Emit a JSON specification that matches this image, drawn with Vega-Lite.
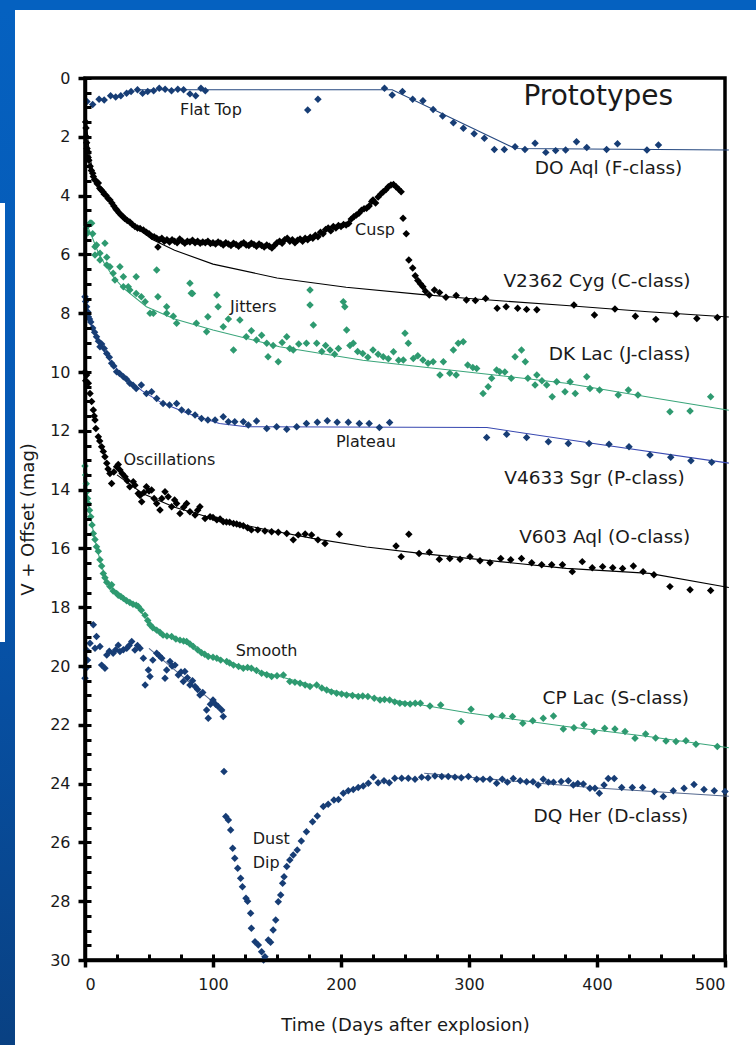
{
"$schema":"https://vega.github.io/schema/vega-lite/v6.json",
"width":640,"height":882,
"autosize":{"type":"none"},
"padding":{"left":85,"top":78,"right":31,"bottom":85},
"background":"white",
"config":{"font":"DejaVu Sans","view":{"stroke":"#000","strokeWidth":3.5}},
"resolve":{"scale":{"color":"independent"},"axis":{"x":"independent","y":"independent"}},
"datasets":{
"top":[{"x1":-80,"x2":600,"y1":-6,"y2":-2.313}],
"left":[{"x1":-80,"x2":-54.69,"y1":-2.313,"y2":40}],
"patch":[{"x1":-80,"x2":-62.5,"y1":4.25,"y2":19.18}],
"fit":[
{"s":"DO","t":40,"m":0.4},{"s":"DO","t":240,"m":0.4},{"s":"DO","t":336,"m":2.4},{"s":"DO","t":503,"m":2.45},
{"s":"V2362","t":1,"m":1.3},{"s":"V2362","t":2,"m":1.95},{"s":"V2362","t":3,"m":2.4},{"s":"V2362","t":5,"m":2.95},{"s":"V2362","t":7,"m":3.3},{"s":"V2362","t":10,"m":3.62},{"s":"V2362","t":15,"m":3.97},{"s":"V2362","t":20,"m":4.22},{"s":"V2362","t":30,"m":4.72},{"s":"V2362","t":40,"m":5.1},{"s":"V2362","t":53,"m":5.5},{"s":"V2362","t":70,"m":5.86},{"s":"V2362","t":100,"m":6.33},{"s":"V2362","t":150,"m":6.8},{"s":"V2362","t":204,"m":7.12},{"s":"V2362","t":262,"m":7.36},{"s":"V2362","t":300,"m":7.5},{"s":"V2362","t":376,"m":7.74},{"s":"V2362","t":440,"m":7.95},{"s":"V2362","t":503,"m":8.13},
{"s":"DK","t":2,"m":5.05},{"s":"DK","t":5,"m":5.35},{"s":"DK","t":10,"m":5.9},{"s":"DK","t":15,"m":6.3},{"s":"DK","t":22,"m":6.76},{"s":"DK","t":30,"m":7.15},{"s":"DK","t":48,"m":7.78},{"s":"DK","t":70,"m":8.2},{"s":"DK","t":100,"m":8.57},{"s":"DK","t":152,"m":9.14},{"s":"DK","t":217,"m":9.6},{"s":"DK","t":262,"m":9.82},{"s":"DK","t":320,"m":10.1},{"s":"DK","t":376,"m":10.38},{"s":"DK","t":440,"m":10.85},{"s":"DK","t":503,"m":11.3},
{"s":"V4633","t":0,"m":7.5},{"s":"V4633","t":5,"m":8.4},{"s":"V4633","t":10,"m":8.95},{"s":"V4633","t":20,"m":9.65},{"s":"V4633","t":30,"m":10.15},{"s":"V4633","t":45,"m":10.65},{"s":"V4633","t":60,"m":11.05},{"s":"V4633","t":80,"m":11.4},{"s":"V4633","t":105,"m":11.75},{"s":"V4633","t":126,"m":11.86},{"s":"V4633","t":314,"m":11.89},{"s":"V4633","t":400,"m":12.45},{"s":"V4633","t":503,"m":13.1},
{"s":"V603","t":25,"m":13.5},{"s":"V603","t":45,"m":14.13},{"s":"V603","t":70,"m":14.6},{"s":"V603","t":100,"m":14.98},{"s":"V603","t":140,"m":15.35},{"s":"V603","t":178,"m":15.66},{"s":"V603","t":220,"m":15.95},{"s":"V603","t":262,"m":16.17},{"s":"V603","t":324,"m":16.45},{"s":"V603","t":376,"m":16.68},{"s":"V603","t":441,"m":16.85},{"s":"V603","t":503,"m":17.33},
{"s":"CP","t":0,"m":13.2},{"s":"CP","t":2,"m":14.3},{"s":"CP","t":5,"m":15.1},{"s":"CP","t":8,"m":15.75},{"s":"CP","t":12,"m":16.45},{"s":"CP","t":16,"m":17.0},{"s":"CP","t":20,"m":17.3},{"s":"CP","t":30,"m":17.72},{"s":"CP","t":40,"m":17.95},{"s":"CP","t":50,"m":18.5},{"s":"CP","t":60,"m":18.9},{"s":"CP","t":75,"m":19.15},{"s":"CP","t":100,"m":19.7},{"s":"CP","t":130,"m":20.1},{"s":"CP","t":160,"m":20.45},{"s":"CP","t":200,"m":20.9},{"s":"CP","t":246,"m":21.2},{"s":"CP","t":300,"m":21.6},{"s":"CP","t":376,"m":22.06},{"s":"CP","t":440,"m":22.4},{"s":"CP","t":503,"m":22.78},
{"s":"DQ1","t":50,"m":19.4},{"s":"DQ1","t":109,"m":21.55},
{"s":"DQ2","t":265,"m":23.65},{"s":"DQ2","t":330,"m":23.9},{"s":"DQ2","t":400,"m":24.15},{"s":"DQ2","t":503,"m":24.43}
],
"pts":[
{"s":"DO","t":1.5,"m":0.8},{"s":"DO","t":6,"m":0.9},{"s":"DO","t":11,"m":0.72},{"s":"DO","t":15,"m":0.75},{"s":"DO","t":20,"m":0.6},{"s":"DO","t":24,"m":0.65},{"s":"DO","t":28,"m":0.6},{"s":"DO","t":32.5,"m":0.52},{"s":"DO","t":36,"m":0.46},{"s":"DO","t":41,"m":0.4},{"s":"DO","t":45,"m":0.52},{"s":"DO","t":49,"m":0.46},{"s":"DO","t":53.6,"m":0.43},{"s":"DO","t":58,"m":0.35},{"s":"DO","t":62.6,"m":0.38},{"s":"DO","t":67.6,"m":0.43},{"s":"DO","t":72.5,"m":0.38},{"s":"DO","t":77,"m":0.4},{"s":"DO","t":82,"m":0.54},{"s":"DO","t":86.5,"m":0.6},{"s":"DO","t":90.6,"m":0.35},{"s":"DO","t":94,"m":0.43},{"s":"DO","t":174,"m":1.09},{"s":"DO","t":182,"m":0.72},{"s":"DO","t":234,"m":0.35},{"s":"DO","t":240,"m":0.58},{"s":"DO","t":248,"m":0.46},{"s":"DO","t":256,"m":0.72},{"s":"DO","t":264,"m":0.77},{"s":"DO","t":272,"m":1.07},{"s":"DO","t":279.4,"m":1.29},{"s":"DO","t":287.8,"m":1.52},{"s":"DO","t":295.6,"m":1.71},{"s":"DO","t":304,"m":1.9},{"s":"DO","t":312,"m":2.05},{"s":"DO","t":319.8,"m":2.43},{"s":"DO","t":327.6,"m":2.43},{"s":"DO","t":336,"m":2.34},{"s":"DO","t":343.7,"m":2.43},{"s":"DO","t":351.6,"m":2.22},{"s":"DO","t":360,"m":2.53},{"s":"DO","t":367.7,"m":2.47},{"s":"DO","t":375.5,"m":2.45},{"s":"DO","t":384,"m":2.17},{"s":"DO","t":392,"m":2.36},{"s":"DO","t":407.5,"m":2.43},{"s":"DO","t":416,"m":2.24},{"s":"DO","t":439,"m":2.45},{"s":"DO","t":448,"m":2.28},
{"s":"V2362","t":0.5,"m":1.5},{"s":"V2362","t":0.8,"m":1.7},{"s":"V2362","t":1,"m":2.0},{"s":"V2362","t":1.3,"m":2.2},{"s":"V2362","t":1.6,"m":2.4},{"s":"V2362","t":2,"m":2.5},{"s":"V2362","t":2.5,"m":2.7},{"s":"V2362","t":3,"m":2.8},{"s":"V2362","t":4,"m":3.0},{"s":"V2362","t":5,"m":3.15},{"s":"V2362","t":6,"m":3.24},{"s":"V2362","t":6.5,"m":3.35},{"s":"V2362","t":7.5,"m":3.45},{"s":"V2362","t":8.5,"m":3.5},{"s":"V2362","t":9.5,"m":3.6},{"s":"V2362","t":10.4,"m":3.57},{"s":"V2362","t":11.5,"m":3.75},{"s":"V2362","t":12.5,"m":3.8},{"s":"V2362","t":14,"m":3.87},{"s":"V2362","t":15,"m":3.95},{"s":"V2362","t":16.5,"m":4.0},{"s":"V2362","t":18,"m":4.1},{"s":"V2362","t":19.5,"m":4.15},{"s":"V2362","t":21,"m":4.25},{"s":"V2362","t":22.5,"m":4.35},{"s":"V2362","t":24,"m":4.45},{"s":"V2362","t":25,"m":4.5},{"s":"V2362","t":26.5,"m":4.58},{"s":"V2362","t":28,"m":4.65},{"s":"V2362","t":29.7,"m":4.72},{"s":"V2362","t":31,"m":4.78},{"s":"V2362","t":33,"m":4.85},{"s":"V2362","t":35,"m":4.9},{"s":"V2362","t":37,"m":4.98},{"s":"V2362","t":39,"m":5.05},{"s":"V2362","t":41,"m":5.1},{"s":"V2362","t":43,"m":5.12},{"s":"V2362","t":45.6,"m":5.17},{"s":"V2362","t":48,"m":5.25},{"s":"V2362","t":50,"m":5.3},{"s":"V2362","t":52,"m":5.38},{"s":"V2362","t":54,"m":5.4},{"s":"V2362","t":56,"m":5.45},{"s":"V2362","t":57,"m":5.75},{"s":"V2362","t":58,"m":5.5},{"s":"V2362","t":60,"m":5.45},{"s":"V2362","t":62,"m":5.55},{"s":"V2362","t":64,"m":5.5},{"s":"V2362","t":66,"m":5.58},{"s":"V2362","t":68,"m":5.5},{"s":"V2362","t":70,"m":5.55},{"s":"V2362","t":72,"m":5.6},{"s":"V2362","t":74,"m":5.48},{"s":"V2362","t":76,"m":5.55},{"s":"V2362","t":78,"m":5.62},{"s":"V2362","t":80,"m":5.55},{"s":"V2362","t":82,"m":5.58},{"s":"V2362","t":84,"m":5.52},{"s":"V2362","t":86,"m":5.6},{"s":"V2362","t":88,"m":5.55},{"s":"V2362","t":90,"m":5.62},{"s":"V2362","t":92,"m":5.58},{"s":"V2362","t":94,"m":5.6},{"s":"V2362","t":96,"m":5.55},{"s":"V2362","t":98,"m":5.63},{"s":"V2362","t":100,"m":5.6},{"s":"V2362","t":102,"m":5.65},{"s":"V2362","t":104,"m":5.58},{"s":"V2362","t":106,"m":5.62},{"s":"V2362","t":108,"m":5.68},{"s":"V2362","t":110,"m":5.6},{"s":"V2362","t":112,"m":5.65},{"s":"V2362","t":114,"m":5.7},{"s":"V2362","t":116,"m":5.62},{"s":"V2362","t":118,"m":5.66},{"s":"V2362","t":120,"m":5.72},{"s":"V2362","t":122,"m":5.65},{"s":"V2362","t":124,"m":5.6},{"s":"V2362","t":126,"m":5.68},{"s":"V2362","t":128,"m":5.7},{"s":"V2362","t":130,"m":5.62},{"s":"V2362","t":132,"m":5.66},{"s":"V2362","t":134,"m":5.72},{"s":"V2362","t":136,"m":5.65},{"s":"V2362","t":138,"m":5.7},{"s":"V2362","t":140,"m":5.75},{"s":"V2362","t":142,"m":5.68},{"s":"V2362","t":144,"m":5.72},{"s":"V2362","t":146,"m":5.78},{"s":"V2362","t":148,"m":5.7},{"s":"V2362","t":150,"m":5.6},{"s":"V2362","t":152,"m":5.55},{"s":"V2362","t":154,"m":5.62},{"s":"V2362","t":156,"m":5.5},{"s":"V2362","t":158,"m":5.45},{"s":"V2362","t":160,"m":5.55},{"s":"V2362","t":162,"m":5.5},{"s":"V2362","t":164,"m":5.6},{"s":"V2362","t":166,"m":5.52},{"s":"V2362","t":168,"m":5.48},{"s":"V2362","t":170,"m":5.55},{"s":"V2362","t":172,"m":5.45},{"s":"V2362","t":174,"m":5.5},{"s":"V2362","t":176,"m":5.42},{"s":"V2362","t":178,"m":5.45},{"s":"V2362","t":180,"m":5.35},{"s":"V2362","t":182,"m":5.4},{"s":"V2362","t":184,"m":5.25},{"s":"V2362","t":186,"m":5.3},{"s":"V2362","t":188,"m":5.15},{"s":"V2362","t":190,"m":5.1},{"s":"V2362","t":192,"m":5.2},{"s":"V2362","t":194,"m":5.05},{"s":"V2362","t":196,"m":5.1},{"s":"V2362","t":198,"m":5.02},{"s":"V2362","t":200,"m":5.05},{"s":"V2362","t":202,"m":4.98},{"s":"V2362","t":204,"m":5.0},{"s":"V2362","t":206,"m":4.95},{"s":"V2362","t":208,"m":4.8},{"s":"V2362","t":210,"m":4.72},{"s":"V2362","t":212,"m":4.66},{"s":"V2362","t":214,"m":4.6},{"s":"V2362","t":216,"m":4.5},{"s":"V2362","t":218,"m":4.45},{"s":"V2362","t":220,"m":4.43},{"s":"V2362","t":222,"m":4.35},{"s":"V2362","t":224,"m":4.2},{"s":"V2362","t":225,"m":4.15},{"s":"V2362","t":227,"m":4.25},{"s":"V2362","t":229,"m":4.05},{"s":"V2362","t":231,"m":3.95},{"s":"V2362","t":233,"m":3.87},{"s":"V2362","t":235,"m":3.8},{"s":"V2362","t":237,"m":3.7},{"s":"V2362","t":239,"m":3.64},{"s":"V2362","t":241,"m":3.62},{"s":"V2362","t":243,"m":3.7},{"s":"V2362","t":245,"m":3.78},{"s":"V2362","t":247,"m":3.87},{"s":"V2362","t":248.5,"m":4.77},{"s":"V2362","t":251,"m":5.3},{"s":"V2362","t":253,"m":6.19},{"s":"V2362","t":256,"m":6.46},{"s":"V2362","t":258,"m":6.73},{"s":"V2362","t":260,"m":6.89},{"s":"V2362","t":262,"m":7.0},{"s":"V2362","t":264,"m":7.1},{"s":"V2362","t":266,"m":7.25},{"s":"V2362","t":269,"m":7.38},{"s":"V2362","t":273,"m":7.21},{"s":"V2362","t":277,"m":7.3},{"s":"V2362","t":282,"m":7.46},{"s":"V2362","t":290,"m":7.4},{"s":"V2362","t":298,"m":7.55},{"s":"V2362","t":305,"m":7.57},{"s":"V2362","t":313,"m":7.5},{"s":"V2362","t":322,"m":7.83},{"s":"V2362","t":329,"m":7.78},{"s":"V2362","t":338,"m":7.83},{"s":"V2362","t":345,"m":7.87},{"s":"V2362","t":353,"m":7.88},{"s":"V2362","t":382,"m":7.72},{"s":"V2362","t":398,"m":8.06},{"s":"V2362","t":414,"m":7.86},{"s":"V2362","t":430,"m":8.1},{"s":"V2362","t":446,"m":8.21},{"s":"V2362","t":462,"m":8.03},{"s":"V2362","t":478,"m":8.18},{"s":"V2362","t":494,"m":8.15},
{"s":"DK","t":1.3,"m":5.06},{"s":"DK","t":2,"m":5.27},{"s":"DK","t":4,"m":4.93},{"s":"DK","t":5.2,"m":4.94},{"s":"DK","t":6,"m":5.3},{"s":"DK","t":7.8,"m":5.74},{"s":"DK","t":7.8,"m":6.02},{"s":"DK","t":9,"m":5.68},{"s":"DK","t":11.7,"m":5.96},{"s":"DK","t":11.7,"m":6.19},{"s":"DK","t":15.6,"m":5.62},{"s":"DK","t":17,"m":6.36},{"s":"DK","t":17,"m":6.1},{"s":"DK","t":19.5,"m":6.42},{"s":"DK","t":22,"m":6.64},{"s":"DK","t":23.4,"m":6.87},{"s":"DK","t":27.3,"m":6.42},{"s":"DK","t":30,"m":7.1},{"s":"DK","t":30,"m":6.76},{"s":"DK","t":33.8,"m":7.1},{"s":"DK","t":35,"m":7.21},{"s":"DK","t":40,"m":6.76},{"s":"DK","t":40,"m":7.33},{"s":"DK","t":44,"m":7.44},{"s":"DK","t":47,"m":7.61},{"s":"DK","t":50.8,"m":8.0},{"s":"DK","t":53.4,"m":8.0},{"s":"DK","t":56,"m":6.53},{"s":"DK","t":57,"m":7.44},{"s":"DK","t":63.8,"m":7.78},{"s":"DK","t":63.8,"m":8.0},{"s":"DK","t":69,"m":8.1},{"s":"DK","t":71.6,"m":8.34},{"s":"DK","t":82,"m":6.98},{"s":"DK","t":83,"m":7.32},{"s":"DK","t":84,"m":7.33},{"s":"DK","t":87,"m":8.34},{"s":"DK","t":95,"m":8.63},{"s":"DK","t":96,"m":8.12},{"s":"DK","t":103,"m":7.38},{"s":"DK","t":104,"m":7.78},{"s":"DK","t":108,"m":8.46},{"s":"DK","t":112,"m":8.2},{"s":"DK","t":116,"m":9.25},{"s":"DK","t":121,"m":8.23},{"s":"DK","t":126,"m":8.8},{"s":"DK","t":130,"m":8.6},{"s":"DK","t":134,"m":8.91},{"s":"DK","t":138,"m":8.75},{"s":"DK","t":142,"m":9.02},{"s":"DK","t":143,"m":9.48},{"s":"DK","t":147,"m":9.1},{"s":"DK","t":151,"m":9.65},{"s":"DK","t":154,"m":9.0},{"s":"DK","t":157.6,"m":8.8},{"s":"DK","t":160,"m":9.2},{"s":"DK","t":162.7,"m":9.25},{"s":"DK","t":167,"m":9.05},{"s":"DK","t":173,"m":9.02},{"s":"DK","t":175.8,"m":7.21},{"s":"DK","t":175.8,"m":7.72},{"s":"DK","t":178.4,"m":8.4},{"s":"DK","t":181,"m":9.02},{"s":"DK","t":185,"m":9.3},{"s":"DK","t":188,"m":9.1},{"s":"DK","t":191.4,"m":9.25},{"s":"DK","t":195,"m":9.4},{"s":"DK","t":198,"m":9.2},{"s":"DK","t":201.8,"m":7.61},{"s":"DK","t":203,"m":7.78},{"s":"DK","t":204.4,"m":8.57},{"s":"DK","t":207,"m":9.1},{"s":"DK","t":209.6,"m":9.02},{"s":"DK","t":213,"m":9.3},{"s":"DK","t":217,"m":9.37},{"s":"DK","t":221,"m":9.5},{"s":"DK","t":225,"m":9.25},{"s":"DK","t":229,"m":9.4},{"s":"DK","t":233,"m":9.48},{"s":"DK","t":237,"m":9.55},{"s":"DK","t":241,"m":9.31},{"s":"DK","t":245,"m":9.6},{"s":"DK","t":248.7,"m":9.59},{"s":"DK","t":250,"m":8.68},{"s":"DK","t":252.6,"m":9.02},{"s":"DK","t":256.5,"m":9.54},{"s":"DK","t":260,"m":9.45},{"s":"DK","t":264,"m":9.59},{"s":"DK","t":268,"m":9.7},{"s":"DK","t":272,"m":9.65},{"s":"DK","t":277.3,"m":10.1},{"s":"DK","t":280,"m":9.65},{"s":"DK","t":285,"m":10.04},{"s":"DK","t":287.8,"m":9.25},{"s":"DK","t":290,"m":10.1},{"s":"DK","t":291.6,"m":9.02},{"s":"DK","t":295.5,"m":8.97},{"s":"DK","t":299,"m":9.76},{"s":"DK","t":303,"m":9.85},{"s":"DK","t":306,"m":9.88},{"s":"DK","t":311,"m":10.73},{"s":"DK","t":315,"m":10.5},{"s":"DK","t":317.7,"m":10.21},{"s":"DK","t":321.6,"m":9.93},{"s":"DK","t":324,"m":9.99},{"s":"DK","t":328,"m":10.0},{"s":"DK","t":333,"m":10.21},{"s":"DK","t":336,"m":9.48},{"s":"DK","t":341,"m":9.25},{"s":"DK","t":344,"m":9.65},{"s":"DK","t":346,"m":10.21},{"s":"DK","t":351.6,"m":10.44},{"s":"DK","t":353,"m":10.1},{"s":"DK","t":357,"m":10.3},{"s":"DK","t":360.7,"m":10.44},{"s":"DK","t":365,"m":10.84},{"s":"DK","t":368.5,"m":10.33},{"s":"DK","t":375,"m":10.67},{"s":"DK","t":379,"m":10.33},{"s":"DK","t":383,"m":10.73},{"s":"DK","t":392,"m":10.16},{"s":"DK","t":394.5,"m":10.56},{"s":"DK","t":402,"m":10.61},{"s":"DK","t":416.6,"m":10.78},{"s":"DK","t":424.5,"m":10.61},{"s":"DK","t":432,"m":10.78},{"s":"DK","t":457,"m":11.35},{"s":"DK","t":472.7,"m":11.33},{"s":"DK","t":488.8,"m":10.84},
{"s":"V4633","t":0,"m":7.44},{"s":"V4633","t":0.5,"m":7.6},{"s":"V4633","t":1.3,"m":7.78},{"s":"V4633","t":2,"m":7.95},{"s":"V4633","t":2.6,"m":8.12},{"s":"V4633","t":3.5,"m":8.2},{"s":"V4633","t":4.5,"m":8.3},{"s":"V4633","t":6,"m":8.5},{"s":"V4633","t":7.5,"m":8.65},{"s":"V4633","t":9,"m":8.8},{"s":"V4633","t":10.5,"m":8.95},{"s":"V4633","t":11.7,"m":9.14},{"s":"V4633","t":13,"m":9.05},{"s":"V4633","t":15,"m":9.2},{"s":"V4633","t":17,"m":9.37},{"s":"V4633","t":19,"m":9.5},{"s":"V4633","t":20.8,"m":9.7},{"s":"V4633","t":22.5,"m":9.8},{"s":"V4633","t":24.7,"m":9.99},{"s":"V4633","t":27,"m":10.05},{"s":"V4633","t":30,"m":10.16},{"s":"V4633","t":32.5,"m":10.25},{"s":"V4633","t":35,"m":10.38},{"s":"V4633","t":37.5,"m":10.45},{"s":"V4633","t":40,"m":10.56},{"s":"V4633","t":44,"m":10.44},{"s":"V4633","t":48,"m":10.73},{"s":"V4633","t":52,"m":10.67},{"s":"V4633","t":56,"m":10.9},{"s":"V4633","t":61,"m":11.07},{"s":"V4633","t":66,"m":11.12},{"s":"V4633","t":71.6,"m":11.07},{"s":"V4633","t":75.5,"m":11.29},{"s":"V4633","t":80.7,"m":11.35},{"s":"V4633","t":86,"m":11.46},{"s":"V4633","t":91,"m":11.58},{"s":"V4633","t":96,"m":11.63},{"s":"V4633","t":101.6,"m":11.63},{"s":"V4633","t":108,"m":11.52},{"s":"V4633","t":112,"m":11.69},{"s":"V4633","t":117,"m":11.69},{"s":"V4633","t":123.7,"m":11.69},{"s":"V4633","t":127.6,"m":11.8},{"s":"V4633","t":134,"m":11.67},{"s":"V4633","t":142,"m":11.92},{"s":"V4633","t":149.7,"m":11.86},{"s":"V4633","t":157.6,"m":11.95},{"s":"V4633","t":165.4,"m":11.86},{"s":"V4633","t":173,"m":11.75},{"s":"V4633","t":181.5,"m":11.71},{"s":"V4633","t":189.3,"m":11.66},{"s":"V4633","t":197,"m":11.71},{"s":"V4633","t":205.7,"m":11.71},{"s":"V4633","t":214.3,"m":11.75},{"s":"V4633","t":222,"m":11.75},{"s":"V4633","t":230,"m":11.89},{"s":"V4633","t":238,"m":11.72},{"s":"V4633","t":313.8,"m":12.23},{"s":"V4633","t":329.4,"m":12.12},{"s":"V4633","t":345,"m":12.23},{"s":"V4633","t":362,"m":12.37},{"s":"V4633","t":377.6,"m":12.43},{"s":"V4633","t":393.8,"m":12.43},{"s":"V4633","t":409.4,"m":12.46},{"s":"V4633","t":425,"m":12.54},{"s":"V4633","t":441.4,"m":12.82},{"s":"V4633","t":457.6,"m":12.9},{"s":"V4633","t":473.4,"m":13.02},{"s":"V4633","t":489.6,"m":13.07},
{"s":"V603","t":0,"m":10.0},{"s":"V603","t":0.6,"m":10.3},{"s":"V603","t":1.3,"m":10.1},{"s":"V603","t":2.6,"m":10.38},{"s":"V603","t":3.9,"m":10.73},{"s":"V603","t":5.2,"m":11.0},{"s":"V603","t":6.5,"m":11.29},{"s":"V603","t":7.2,"m":11.5},{"s":"V603","t":7.8,"m":11.63},{"s":"V603","t":8.5,"m":11.92},{"s":"V603","t":10.4,"m":12.2},{"s":"V603","t":11.5,"m":12.35},{"s":"V603","t":13,"m":12.54},{"s":"V603","t":14.3,"m":12.7},{"s":"V603","t":15.6,"m":12.88},{"s":"V603","t":17,"m":13.1},{"s":"V603","t":18,"m":13.3},{"s":"V603","t":19.5,"m":13.45},{"s":"V603","t":20.8,"m":13.79},{"s":"V603","t":22.5,"m":13.4},{"s":"V603","t":24.7,"m":13.22},{"s":"V603","t":26,"m":13.15},{"s":"V603","t":27.3,"m":13.33},{"s":"V603","t":29,"m":13.45},{"s":"V603","t":31.3,"m":13.56},{"s":"V603","t":33,"m":13.7},{"s":"V603","t":35,"m":13.9},{"s":"V603","t":37.7,"m":13.73},{"s":"V603","t":39,"m":13.85},{"s":"V603","t":41.6,"m":14.13},{"s":"V603","t":43,"m":14.2},{"s":"V603","t":44.3,"m":14.41},{"s":"V603","t":46,"m":14.1},{"s":"V603","t":48,"m":13.9},{"s":"V603","t":50,"m":14.05},{"s":"V603","t":52,"m":14.01},{"s":"V603","t":54,"m":14.3},{"s":"V603","t":56,"m":14.47},{"s":"V603","t":58.6,"m":14.69},{"s":"V603","t":60,"m":14.3},{"s":"V603","t":62.5,"m":14.07},{"s":"V603","t":65,"m":14.24},{"s":"V603","t":67.7,"m":14.58},{"s":"V603","t":70,"m":14.35},{"s":"V603","t":71.6,"m":14.47},{"s":"V603","t":74.2,"m":14.81},{"s":"V603","t":77,"m":14.6},{"s":"V603","t":79.4,"m":14.47},{"s":"V603","t":82,"m":14.75},{"s":"V603","t":86,"m":14.86},{"s":"V603","t":88,"m":14.7},{"s":"V603","t":89.8,"m":14.58},{"s":"V603","t":93.8,"m":14.98},{"s":"V603","t":97.7,"m":14.92},{"s":"V603","t":100,"m":14.95},{"s":"V603","t":103,"m":15.03},{"s":"V603","t":105.5,"m":15.0},{"s":"V603","t":108,"m":15.09},{"s":"V603","t":110.5,"m":15.1},{"s":"V603","t":113,"m":15.11},{"s":"V603","t":116,"m":15.15},{"s":"V603","t":118.5,"m":15.17},{"s":"V603","t":121,"m":15.2},{"s":"V603","t":123.7,"m":15.23},{"s":"V603","t":127,"m":15.3},{"s":"V603","t":130,"m":15.37},{"s":"V603","t":135,"m":15.37},{"s":"V603","t":140.6,"m":15.41},{"s":"V603","t":145.8,"m":15.43},{"s":"V603","t":151,"m":15.45},{"s":"V603","t":157.6,"m":15.49},{"s":"V603","t":162.7,"m":15.71},{"s":"V603","t":166.6,"m":15.54},{"s":"V603","t":172,"m":15.51},{"s":"V603","t":177,"m":15.54},{"s":"V603","t":182,"m":15.71},{"s":"V603","t":187.5,"m":15.83},{"s":"V603","t":198.7,"m":15.52},{"s":"V603","t":243,"m":15.92},{"s":"V603","t":247,"m":16.28},{"s":"V603","t":253,"m":15.52},{"s":"V603","t":261,"m":16.17},{"s":"V603","t":269,"m":16.13},{"s":"V603","t":276.8,"m":16.37},{"s":"V603","t":285,"m":16.34},{"s":"V603","t":293,"m":16.37},{"s":"V603","t":300.8,"m":16.28},{"s":"V603","t":308.6,"m":16.42},{"s":"V603","t":316.4,"m":16.49},{"s":"V603","t":324.8,"m":16.34},{"s":"V603","t":332.6,"m":16.39},{"s":"V603","t":341,"m":16.34},{"s":"V603","t":349,"m":16.49},{"s":"V603","t":356.8,"m":16.56},{"s":"V603","t":364.6,"m":16.56},{"s":"V603","t":373,"m":16.56},{"s":"V603","t":380.7,"m":16.79},{"s":"V603","t":388.5,"m":16.45},{"s":"V603","t":396.3,"m":16.66},{"s":"V603","t":404.4,"m":16.62},{"s":"V603","t":412.3,"m":16.66},{"s":"V603","t":420,"m":16.68},{"s":"V603","t":428.4,"m":16.6},{"s":"V603","t":436,"m":16.79},{"s":"V603","t":444.5,"m":16.9},{"s":"V603","t":457,"m":17.3},{"s":"V603","t":472.7,"m":17.41},{"s":"V603","t":488.8,"m":17.43},
{"s":"CP","t":0,"m":13.2},{"s":"CP","t":0.5,"m":13.5},{"s":"CP","t":1,"m":13.8},{"s":"CP","t":1.3,"m":14.07},{"s":"CP","t":2,"m":14.3},{"s":"CP","t":2.6,"m":14.47},{"s":"CP","t":3.5,"m":14.7},{"s":"CP","t":4.5,"m":14.92},{"s":"CP","t":5.5,"m":15.2},{"s":"CP","t":6.5,"m":15.49},{"s":"CP","t":7.8,"m":15.7},{"s":"CP","t":9,"m":15.94},{"s":"CP","t":10.4,"m":16.1},{"s":"CP","t":11.7,"m":16.39},{"s":"CP","t":13,"m":16.6},{"s":"CP","t":14.3,"m":16.85},{"s":"CP","t":15.6,"m":17.0},{"s":"CP","t":17,"m":17.15},{"s":"CP","t":19.5,"m":17.3},{"s":"CP","t":20.8,"m":17.24},{"s":"CP","t":22,"m":17.45},{"s":"CP","t":24.7,"m":17.53},{"s":"CP","t":26,"m":17.59},{"s":"CP","t":28,"m":17.64},{"s":"CP","t":30,"m":17.7},{"s":"CP","t":32.5,"m":17.78},{"s":"CP","t":35,"m":17.84},{"s":"CP","t":37.5,"m":17.9},{"s":"CP","t":40,"m":17.93},{"s":"CP","t":41.6,"m":17.98},{"s":"CP","t":44,"m":18.1},{"s":"CP","t":46.9,"m":18.27},{"s":"CP","t":49,"m":18.45},{"s":"CP","t":50.8,"m":18.6},{"s":"CP","t":53,"m":18.7},{"s":"CP","t":56,"m":18.78},{"s":"CP","t":58.5,"m":18.85},{"s":"CP","t":61,"m":18.95},{"s":"CP","t":64,"m":18.98},{"s":"CP","t":67.7,"m":19.0},{"s":"CP","t":71,"m":19.08},{"s":"CP","t":74.2,"m":19.12},{"s":"CP","t":77,"m":19.15},{"s":"CP","t":79.4,"m":19.17},{"s":"CP","t":82,"m":19.25},{"s":"CP","t":84.6,"m":19.34},{"s":"CP","t":88,"m":19.45},{"s":"CP","t":91,"m":19.55},{"s":"CP","t":93.5,"m":19.6},{"s":"CP","t":96.3,"m":19.68},{"s":"CP","t":100,"m":19.7},{"s":"CP","t":103,"m":19.74},{"s":"CP","t":106,"m":19.8},{"s":"CP","t":110.7,"m":19.85},{"s":"CP","t":113,"m":19.9},{"s":"CP","t":116,"m":19.97},{"s":"CP","t":120,"m":20.02},{"s":"CP","t":123.7,"m":20.08},{"s":"CP","t":127,"m":20.05},{"s":"CP","t":130,"m":20.08},{"s":"CP","t":134,"m":20.15},{"s":"CP","t":138,"m":20.25},{"s":"CP","t":142,"m":20.3},{"s":"CP","t":145.8,"m":20.36},{"s":"CP","t":150,"m":20.33},{"s":"CP","t":155,"m":20.31},{"s":"CP","t":160,"m":20.53},{"s":"CP","t":164,"m":20.55},{"s":"CP","t":168,"m":20.59},{"s":"CP","t":172,"m":20.65},{"s":"CP","t":175.8,"m":20.7},{"s":"CP","t":181,"m":20.65},{"s":"CP","t":185,"m":20.75},{"s":"CP","t":188.8,"m":20.82},{"s":"CP","t":192.5,"m":20.88},{"s":"CP","t":196.6,"m":20.93},{"s":"CP","t":200.5,"m":20.95},{"s":"CP","t":204.4,"m":20.99},{"s":"CP","t":209,"m":21.0},{"s":"CP","t":213.5,"m":21.04},{"s":"CP","t":217,"m":21.02},{"s":"CP","t":221,"m":21.04},{"s":"CP","t":226,"m":21.1},{"s":"CP","t":230.5,"m":21.16},{"s":"CP","t":234,"m":21.14},{"s":"CP","t":238,"m":21.16},{"s":"CP","t":242,"m":21.22},{"s":"CP","t":246,"m":21.27},{"s":"CP","t":250,"m":21.28},{"s":"CP","t":254,"m":21.29},{"s":"CP","t":258,"m":21.27},{"s":"CP","t":262,"m":21.27},{"s":"CP","t":269.5,"m":21.36},{"s":"CP","t":277.9,"m":21.33},{"s":"CP","t":293.8,"m":21.89},{"s":"CP","t":301.6,"m":21.47},{"s":"CP","t":317.7,"m":21.72},{"s":"CP","t":326,"m":21.69},{"s":"CP","t":334,"m":21.72},{"s":"CP","t":342,"m":21.95},{"s":"CP","t":349.8,"m":21.86},{"s":"CP","t":358,"m":21.78},{"s":"CP","t":366,"m":21.7},{"s":"CP","t":373.7,"m":22.14},{"s":"CP","t":382,"m":22.1},{"s":"CP","t":389.8,"m":22.0},{"s":"CP","t":397.7,"m":22.23},{"s":"CP","t":406,"m":22.12},{"s":"CP","t":414,"m":22.14},{"s":"CP","t":421.9,"m":22.23},{"s":"CP","t":429.7,"m":22.46},{"s":"CP","t":438,"m":22.31},{"s":"CP","t":445.8,"m":22.45},{"s":"CP","t":453.9,"m":22.55},{"s":"CP","t":461.7,"m":22.57},{"s":"CP","t":469.5,"m":22.54},{"s":"CP","t":477.3,"m":22.66},{"s":"CP","t":494,"m":22.74},
{"s":"DQ","t":0,"m":20.42},{"s":"DQ","t":0.8,"m":20.08},{"s":"DQ","t":1.3,"m":19.46},{"s":"DQ","t":2,"m":19.8},{"s":"DQ","t":3.9,"m":19.23},{"s":"DQ","t":6.5,"m":18.6},{"s":"DQ","t":7.8,"m":19.4},{"s":"DQ","t":9,"m":19.0},{"s":"DQ","t":11.7,"m":19.34},{"s":"DQ","t":13,"m":19.97},{"s":"DQ","t":15.6,"m":20.08},{"s":"DQ","t":17,"m":19.63},{"s":"DQ","t":19,"m":19.5},{"s":"DQ","t":22,"m":19.57},{"s":"DQ","t":24,"m":19.45},{"s":"DQ","t":26,"m":19.29},{"s":"DQ","t":27.3,"m":19.51},{"s":"DQ","t":30,"m":19.45},{"s":"DQ","t":32.6,"m":19.4},{"s":"DQ","t":34.5,"m":19.3},{"s":"DQ","t":36.5,"m":19.17},{"s":"DQ","t":39,"m":19.46},{"s":"DQ","t":41,"m":19.3},{"s":"DQ","t":43,"m":19.4},{"s":"DQ","t":45.6,"m":19.74},{"s":"DQ","t":47,"m":20.65},{"s":"DQ","t":49.5,"m":20.14},{"s":"DQ","t":50.8,"m":20.36},{"s":"DQ","t":53,"m":19.8},{"s":"DQ","t":56,"m":19.57},{"s":"DQ","t":58,"m":19.65},{"s":"DQ","t":60,"m":19.74},{"s":"DQ","t":62.5,"m":20.42},{"s":"DQ","t":63.8,"m":20.14},{"s":"DQ","t":66.4,"m":19.85},{"s":"DQ","t":68,"m":20.0},{"s":"DQ","t":70.3,"m":19.97},{"s":"DQ","t":72.9,"m":20.31},{"s":"DQ","t":75,"m":20.2},{"s":"DQ","t":76.8,"m":20.53},{"s":"DQ","t":78,"m":20.19},{"s":"DQ","t":80,"m":20.4},{"s":"DQ","t":82,"m":20.65},{"s":"DQ","t":84,"m":20.5},{"s":"DQ","t":86,"m":20.7},{"s":"DQ","t":88,"m":20.8},{"s":"DQ","t":89.8,"m":20.99},{"s":"DQ","t":92,"m":20.9},{"s":"DQ","t":95,"m":21.5},{"s":"DQ","t":96.3,"m":21.78},{"s":"DQ","t":98,"m":21.3},{"s":"DQ","t":100,"m":21.16},{"s":"DQ","t":102,"m":21.3},{"s":"DQ","t":104,"m":21.38},{"s":"DQ","t":106.8,"m":21.5},{"s":"DQ","t":108,"m":21.72},{"s":"DQ","t":108.6,"m":23.59},{"s":"DQ","t":110,"m":25.12},{"s":"DQ","t":112,"m":25.24},{"s":"DQ","t":113.8,"m":25.58},{"s":"DQ","t":115.4,"m":26.2},{"s":"DQ","t":117,"m":26.54},{"s":"DQ","t":119.3,"m":26.88},{"s":"DQ","t":121.6,"m":27.22},{"s":"DQ","t":123,"m":27.51},{"s":"DQ","t":125.8,"m":27.9},{"s":"DQ","t":127,"m":28.0},{"s":"DQ","t":129.4,"m":28.41},{"s":"DQ","t":130,"m":28.92},{"s":"DQ","t":132.8,"m":29.38},{"s":"DQ","t":135.4,"m":29.49},{"s":"DQ","t":138,"m":29.72},{"s":"DQ","t":139.5,"m":30.0},{"s":"DQ","t":140.6,"m":29.89},{"s":"DQ","t":143.2,"m":29.32},{"s":"DQ","t":145,"m":29.4},{"s":"DQ","t":147,"m":28.98},{"s":"DQ","t":149,"m":28.64},{"s":"DQ","t":151,"m":28.02},{"s":"DQ","t":152.9,"m":27.79},{"s":"DQ","t":154.4,"m":27.39},{"s":"DQ","t":155.5,"m":27.17},{"s":"DQ","t":157.6,"m":26.82},{"s":"DQ","t":160,"m":26.6},{"s":"DQ","t":162.7,"m":26.43},{"s":"DQ","t":165.8,"m":26.26},{"s":"DQ","t":169,"m":25.95},{"s":"DQ","t":173,"m":25.64},{"s":"DQ","t":177.8,"m":25.3},{"s":"DQ","t":181.5,"m":25.1},{"s":"DQ","t":186.2,"m":24.78},{"s":"DQ","t":190,"m":24.7},{"s":"DQ","t":194.5,"m":24.56},{"s":"DQ","t":198,"m":24.54},{"s":"DQ","t":201.8,"m":24.33},{"s":"DQ","t":205.7,"m":24.24},{"s":"DQ","t":209.6,"m":24.2},{"s":"DQ","t":213.5,"m":24.13},{"s":"DQ","t":217.4,"m":24.08},{"s":"DQ","t":221.4,"m":23.99},{"s":"DQ","t":225.3,"m":23.78},{"s":"DQ","t":229,"m":23.97},{"s":"DQ","t":233.6,"m":23.9},{"s":"DQ","t":237.7,"m":23.97},{"s":"DQ","t":242,"m":23.82},{"s":"DQ","t":247.4,"m":23.82},{"s":"DQ","t":252.6,"m":23.82},{"s":"DQ","t":257.8,"m":23.85},{"s":"DQ","t":263,"m":23.78},{"s":"DQ","t":268,"m":23.8},{"s":"DQ","t":273.4,"m":23.74},{"s":"DQ","t":278.7,"m":23.76},{"s":"DQ","t":283.8,"m":23.76},{"s":"DQ","t":289,"m":23.78},{"s":"DQ","t":294,"m":23.8},{"s":"DQ","t":299.5,"m":23.76},{"s":"DQ","t":306,"m":23.85},{"s":"DQ","t":311,"m":23.85},{"s":"DQ","t":316.4,"m":23.85},{"s":"DQ","t":321.6,"m":23.99},{"s":"DQ","t":326,"m":23.85},{"s":"DQ","t":330,"m":23.95},{"s":"DQ","t":334.6,"m":23.83},{"s":"DQ","t":340,"m":23.9},{"s":"DQ","t":345,"m":23.94},{"s":"DQ","t":350,"m":23.94},{"s":"DQ","t":354,"m":24.05},{"s":"DQ","t":358,"m":23.85},{"s":"DQ","t":362,"m":23.95},{"s":"DQ","t":366,"m":23.95},{"s":"DQ","t":372,"m":23.93},{"s":"DQ","t":377.6,"m":23.9},{"s":"DQ","t":381.5,"m":24.05},{"s":"DQ","t":385,"m":24.0},{"s":"DQ","t":389.3,"m":24.01},{"s":"DQ","t":394.5,"m":24.16},{"s":"DQ","t":398.4,"m":24.16},{"s":"DQ","t":401.8,"m":24.33},{"s":"DQ","t":405.5,"m":24.05},{"s":"DQ","t":408.8,"m":23.83},{"s":"DQ","t":413.5,"m":23.83},{"s":"DQ","t":419.3,"m":24.13},{"s":"DQ","t":427.6,"m":24.13},{"s":"DQ","t":435.7,"m":24.13},{"s":"DQ","t":444.8,"m":24.27},{"s":"DQ","t":451.8,"m":24.44},{"s":"DQ","t":459.6,"m":24.24},{"s":"DQ","t":468,"m":24.16},{"s":"DQ","t":475.8,"m":24.03},{"s":"DQ","t":483.6,"m":24.2},{"s":"DQ","t":491.6,"m":24.24},{"s":"DQ","t":500,"m":24.27}
],
"ann":[{"label":"Flat Top","t":74.2,"m":1.1},{"label":"Cusp","t":211,"m":5.18},{"label":"Jitters","t":113.3,"m":7.8},{"label":"Plateau","t":196,"m":12.38},{"label":"Oscillations","t":30,"m":13.0},{"label":"Smooth","t":117.7,"m":19.5},{"label":"Dust","t":131,"m":25.9},{"label":"Dip","t":131,"m":26.7}],
"lab":[{"label":"DO Aql (F-class)","t":409,"m":3.07},{"label":"V2362 Cyg (C-class)","t":400,"m":6.89},{"label":"DK Lac (J-class)","t":417.7,"m":9.4},{"label":"V4633 Sgr (P-class)","t":398,"m":13.62},{"label":"V603 Aql (O-class)","t":406,"m":15.62},{"label":"CP Lac (S-class)","t":414.7,"m":21.1},{"label":"DQ Her (D-class)","t":410.8,"m":25.1}],
"ttl":[{"label":"Prototypes","t":401,"m":0.65}]
},
"layer":[
{"data":{"name":"top"},"mark":{"type":"rect","color":"#0561c0"},
 "encoding":{"x":{"field":"x1","type":"quantitative","scale":{"domain":[0,500],"nice":false,"zero":false},"axis":null},"x2":{"field":"x2"},
  "y":{"field":"y1","type":"quantitative","scale":{"domain":[0,30],"reverse":true,"nice":false,"zero":false},"axis":null},"y2":{"field":"y2"}}},
{"data":{"name":"left"},"mark":{"type":"rect","color":{"gradient":"linear","x1":0,"y1":0,"x2":0,"y2":1,"stops":[{"offset":0,"color":"#0561c0"},{"offset":0.4,"color":"#0657b2"},{"offset":1,"color":"#0a3870"}]}},
 "encoding":{"x":{"field":"x1","type":"quantitative","scale":{"domain":[0,500],"nice":false,"zero":false},"axis":null},"x2":{"field":"x2"},
  "y":{"field":"y1","type":"quantitative","scale":{"domain":[0,30],"reverse":true,"nice":false,"zero":false},"axis":null},"y2":{"field":"y2"}}},
{"data":{"name":"patch"},"mark":{"type":"rect","color":"#ffffff"},
 "encoding":{"x":{"field":"x1","type":"quantitative","scale":{"domain":[0,500],"nice":false,"zero":false},"axis":null},"x2":{"field":"x2"},
  "y":{"field":"y1","type":"quantitative","scale":{"domain":[0,30],"reverse":true,"nice":false,"zero":false},"axis":null},"y2":{"field":"y2"}}},
{"data":{"name":"fit"},"mark":{"type":"line","strokeWidth":1.1},
 "encoding":{"x":{"field":"t","type":"quantitative","scale":{"domain":[0,500],"nice":false,"zero":false},"axis":null},
  "y":{"field":"m","type":"quantitative","scale":{"domain":[0,30],"reverse":true,"nice":false,"zero":false},"axis":null},
  "detail":{"field":"s"},
  "color":{"field":"s","type":"nominal","legend":null,"scale":{"domain":["DO","V2362","DK","V4633","V603","CP","DQ1","DQ2"],"range":["#24477f","#000000","#3aa57a","#3848b0","#000000","#3aa57a","#55698f","#55698f"]}}}},
{"data":{"name":"pts"},"mark":{"type":"point","shape":"diamond","filled":true,"size":56,"opacity":1},
 "encoding":{"x":{"field":"t","type":"quantitative","scale":{"domain":[0,500],"nice":false,"zero":false},
   "axis":{"orient":"bottom","values":[0,100,200,300,400,500],"title":"Time (Days after explosion)","titleFontSize":18,"titleFontWeight":"normal","titleColor":"#1a1a1a","titlePadding":24,"labelFontSize":16,"labelColor":"#1a1a1a","labelPadding":9,"tickSize":7,"tickWidth":3.5,"tickColor":"#000","domainColor":"#000","domainWidth":3.5,"grid":false,"zindex":1}},
  "y":{"field":"m","type":"quantitative","scale":{"domain":[0,30],"reverse":true,"nice":false,"zero":false},
   "axis":{"orient":"left","values":[0,2,4,6,8,10,12,14,16,18,20,22,24,26,28,30],"title":"V + Offset (mag)","titleFontSize":18,"titleFontWeight":"normal","titleColor":"#1a1a1a","titlePadding":12,"labelFontSize":16,"labelColor":"#1a1a1a","labelPadding":8,"tickSize":7,"tickWidth":3.5,"tickColor":"#000","domainColor":"#000","domainWidth":3.5,"grid":false,"zindex":1}},
  "color":{"field":"s","type":"nominal","legend":null,"scale":{"domain":["DO","V2362","DK","V4633","V603","CP","DQ"],"range":["#173d75","#000000","#2e9a70","#173d75","#000000","#2e9a70","#173d75"]}}}},
{"data":{"name":"ann"},"mark":{"type":"text","fontSize":16,"align":"left","baseline":"middle","color":"#1a1a1a"},
 "encoding":{"x":{"field":"t","type":"quantitative","scale":{"domain":[0,500],"nice":false,"zero":false},
   "axis":{"orient":"bottom","values":[0,25,50,75,100,125,150,175,200,225,250,275,300,325,350,375,400,425,450,475,500],"labels":false,"domain":false,"title":null,"tickSize":-6,"tickWidth":3,"tickColor":"#000","grid":false,"zindex":1}},
  "y":{"field":"m","type":"quantitative","scale":{"domain":[0,30],"reverse":true,"nice":false,"zero":false},
   "axis":{"orient":"left","values":[0,0.5,1,1.5,2,2.5,3,3.5,4,4.5,5,5.5,6,6.5,7,7.5,8,8.5,9,9.5,10,10.5,11,11.5,12,12.5,13,13.5,14,14.5,15,15.5,16,16.5,17,17.5,18,18.5,19,19.5,20,20.5,21,21.5,22,22.5,23,23.5,24,24.5,25,25.5,26,26.5,27,27.5,28,28.5,29,29.5,30],"labels":false,"domain":false,"title":null,"tickSize":-6,"tickWidth":3,"tickColor":"#000","grid":false,"zindex":1}},
  "text":{"field":"label"}}},
{"data":{"name":"lab"},"mark":{"type":"text","fontSize":18.5,"align":"center","baseline":"middle","color":"#1a1a1a"},
 "encoding":{"x":{"field":"t","type":"quantitative","scale":{"domain":[0,500],"nice":false,"zero":false},"axis":null},
  "y":{"field":"m","type":"quantitative","scale":{"domain":[0,30],"reverse":true,"nice":false,"zero":false},"axis":null},
  "text":{"field":"label"}}},
{"data":{"name":"ttl"},"mark":{"type":"text","fontSize":28,"align":"center","baseline":"middle","color":"#1a1a1a"},
 "encoding":{"x":{"field":"t","type":"quantitative","scale":{"domain":[0,500],"nice":false,"zero":false},"axis":null},
  "y":{"field":"m","type":"quantitative","scale":{"domain":[0,30],"reverse":true,"nice":false,"zero":false},"axis":null},
  "text":{"field":"label"}}}
]
}
